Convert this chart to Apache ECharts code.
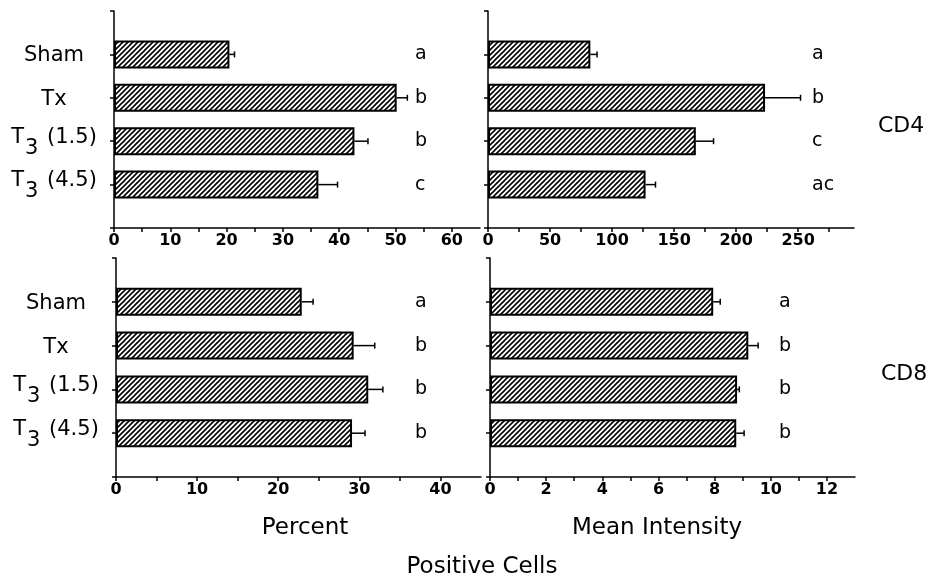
<!DOCTYPE html>
<html>
<head>
<meta charset="utf-8">
<script src="https://cdn.jsdelivr.net/npm/echarts@6/dist/echarts.min.js"></script>
<style>
html, body { margin: 0; padding: 0; background: #fff; }
#chart { width: 930px; height: 585px; }
</style>
</head>
<body>
<div id="chart"></div>
<script>
// Treatment groups (top to bottom)
const groups = ['Sham', 'Tx', 'T3 (1.5)', 'T3 (4.5)'];

// CD4: percent positive cells and mean intensity (mean, SEM)
const cd4Percent = [20.5, 50.2, 42.7, 36.3];
const cd4PercentErr = [0.9, 1.9, 2.4, 3.4];
const cd4Intensity = [82.5, 223.3, 167.5, 127];
const cd4IntensityErr = [5.4, 28.6, 14.3, 8];

// CD8: percent positive cells and mean intensity (mean, SEM)
const cd8Percent = [22.9, 29.3, 31.1, 29.1];
const cd8PercentErr = [1.4, 2.6, 1.8, 1.6];
const cd8Intensity = [7.95, 9.2, 8.8, 8.77];
const cd8IntensityErr = [0.25, 0.35, 0.08, 0.28];

// Significance letters per group
const cd4PercentSig = ['a', 'b', 'b', 'c'];
const cd4IntensitySig = ['a', 'b', 'c', 'ac'];
const cd8PercentSig = ['a', 'b', 'b', 'b'];
const cd8IntensitySig = ['a', 'b', 'b', 'b'];

// Axis ranges and tick steps
const percentCd4Max = 65, percentCd4Step = 5, percentCd4LabelStep = 10;
const intensityCd4Max = 295, intensityCd4Step = 25, intensityCd4LabelStep = 50;
const percentCd8Max = 45, percentCd8Step = 5, percentCd8LabelStep = 10;
const intensityCd8Max = 13, intensityCd8Step = 1, intensityCd8LabelStep = 2;

const FONT = 'DejaVu Sans';

// Diagonal hatch fill for the bars
function hatchPattern() {
  const s = 5;
  const c = document.createElement('canvas');
  c.width = s; c.height = s;
  const g = c.getContext('2d');
  g.fillStyle = '#fff';
  g.fillRect(0, 0, s, s);
  g.strokeStyle = '#000';
  g.lineWidth = 1.6;
  g.beginPath();
  g.moveTo(-1, s + 1); g.lineTo(s + 1, -1);
  g.moveTo(-1, 1); g.lineTo(1, -1);
  g.moveTo(s - 1, s + 1); g.lineTo(s + 1, s - 1);
  g.stroke();
  return c;
}
const hatch = { image: hatchPattern(), repeat: 'repeat' };

// Category rows padded with an empty slot above and below
const rows = ['', ...groups, ''];
const padded = arr => ['', ...arr, ''];

const grids = [
  { left: 114, top: 11, width: 366, height: 217 },
  { left: 488, top: 11, width: 366, height: 217 },
  { left: 116, top: 258, width: 365, height: 219 },
  { left: 490, top: 258, width: 365, height: 219 }
];

function xAxisFor(gi, max, step, labelStep) {
  return {
    type: 'value', gridIndex: gi, min: 0, max: max, interval: step,
    axisLine: { show: true, lineStyle: { color: '#000', width: 1.5 } },
    axisTick: { show: true, length: 4, lineStyle: { color: '#000', width: 1.5 } },
    splitLine: { show: false },
    axisLabel: {
      color: '#000', fontFamily: FONT, fontSize: 16, fontWeight: 'bold', margin: 5,
      showMaxLabel: false,
      formatter: v => (Math.round(v / labelStep * 1000) % 1000 === 0 ? String(v) : '')
    }
  };
}

function catAxisFor(gi, showLabels) {
  return {
    type: 'category', gridIndex: gi, data: rows, inverse: true, boundaryGap: false,
    axisLine: { show: true, lineStyle: { color: '#000', width: 1.5 } },
    axisTick: { show: true, length: 4, interval: 0, lineStyle: { color: '#000', width: 1.5 } },
    axisLabel: {
      show: showLabels, interval: 0, align: 'center', margin: 60,
      color: '#000', fontFamily: FONT, fontSize: 21,
      formatter: v => {
        const m = /^T3 (.*)$/.exec(v);
        return m ? '{t|T}{s|3}{t| ' + m[1] + '}' : '{t|' + v + '}';
      },
      rich: {
        t: { fontFamily: FONT, fontSize: 21, color: '#000', verticalAlign: 'top', padding: [3, 0, 0, 0] },
        s: { fontFamily: FONT, fontSize: 21, color: '#000', verticalAlign: 'top', padding: [14, 2, 0, 1] }
      }
    }
  };
}

function sigAxisFor(gi, letters, margin) {
  return {
    type: 'category', gridIndex: gi, data: padded(letters), inverse: true, boundaryGap: false,
    position: 'right',
    axisLine: { show: false }, axisTick: { show: false },
    axisLabel: {
      inside: true, align: 'left', margin: margin, interval: 0,
      color: '#000', fontFamily: FONT, fontSize: 19
    }
  };
}

function barSeries(idx, values) {
  return {
    type: 'bar', xAxisIndex: idx, yAxisIndex: idx * 2,
    data: values.map((v, i) => [v, i + 1]),
    barWidth: 28,
    itemStyle: { color: hatch, borderColor: '#000', borderWidth: 2 },
    silent: true, z: 2
  };
}

function errRender(params, api) {
  const v = api.value(0), c = api.value(1), e = api.value(2);
  const p0 = api.coord([v, c]);
  const p1 = api.coord([v + e, c]);
  const st = { stroke: '#000', lineWidth: 1.5 };
  return {
    type: 'group',
    children: [
      { type: 'line', shape: { x1: p0[0], y1: p0[1], x2: p1[0], y2: p1[1] }, style: st },
      { type: 'line', shape: { x1: p1[0], y1: p1[1] - 3, x2: p1[0], y2: p1[1] + 3 }, style: st }
    ]
  };
}

function errSeries(idx, values, errs) {
  return {
    type: 'custom', xAxisIndex: idx, yAxisIndex: idx * 2,
    renderItem: errRender,
    data: values.map((v, i) => [v, i + 1, errs[i]]),
    encode: { x: 0, y: 1 },
    silent: true, z: 3
  };
}

const titleStyle = { fontFamily: FONT, fontSize: 22, fontWeight: 'normal', color: '#000' };
const nameStyle = Object.assign({}, titleStyle, { fontSize: 23 });

const option = {
  backgroundColor: '#fff',
  animation: false,
  title: [
    { text: 'CD4', left: 873, top: 110, textStyle: titleStyle },
    { text: 'CD8', left: 876, top: 358, textStyle: titleStyle },
    { text: 'Percent', left: 300, top: 512, textAlign: 'center', textStyle: nameStyle },
    { text: 'Mean Intensity', left: 652, top: 512, textAlign: 'center', textStyle: nameStyle },
    { text: 'Positive Cells', left: 477, top: 551, textAlign: 'center', textStyle: nameStyle }
  ],
  grid: grids,
  xAxis: [
    xAxisFor(0, percentCd4Max, percentCd4Step, percentCd4LabelStep),
    xAxisFor(1, intensityCd4Max, intensityCd4Step, intensityCd4LabelStep),
    xAxisFor(2, percentCd8Max, percentCd8Step, percentCd8LabelStep),
    xAxisFor(3, intensityCd8Max, intensityCd8Step, intensityCd8LabelStep)
  ],
  yAxis: [
    catAxisFor(0, true), sigAxisFor(0, cd4PercentSig, 65),
    catAxisFor(1, false), sigAxisFor(1, cd4IntensitySig, 42),
    catAxisFor(2, true), sigAxisFor(2, cd8PercentSig, 66),
    catAxisFor(3, false), sigAxisFor(3, cd8IntensitySig, 76)
  ],
  series: [
    barSeries(0, cd4Percent), errSeries(0, cd4Percent, cd4PercentErr),
    barSeries(1, cd4Intensity), errSeries(1, cd4Intensity, cd4IntensityErr),
    barSeries(2, cd8Percent), errSeries(2, cd8Percent, cd8PercentErr),
    barSeries(3, cd8Intensity), errSeries(3, cd8Intensity, cd8IntensityErr)
  ]
};

const chart = echarts.init(document.getElementById('chart'), null, { renderer: 'canvas' });
chart.setOption(option);
</script>
</body>
</html>
